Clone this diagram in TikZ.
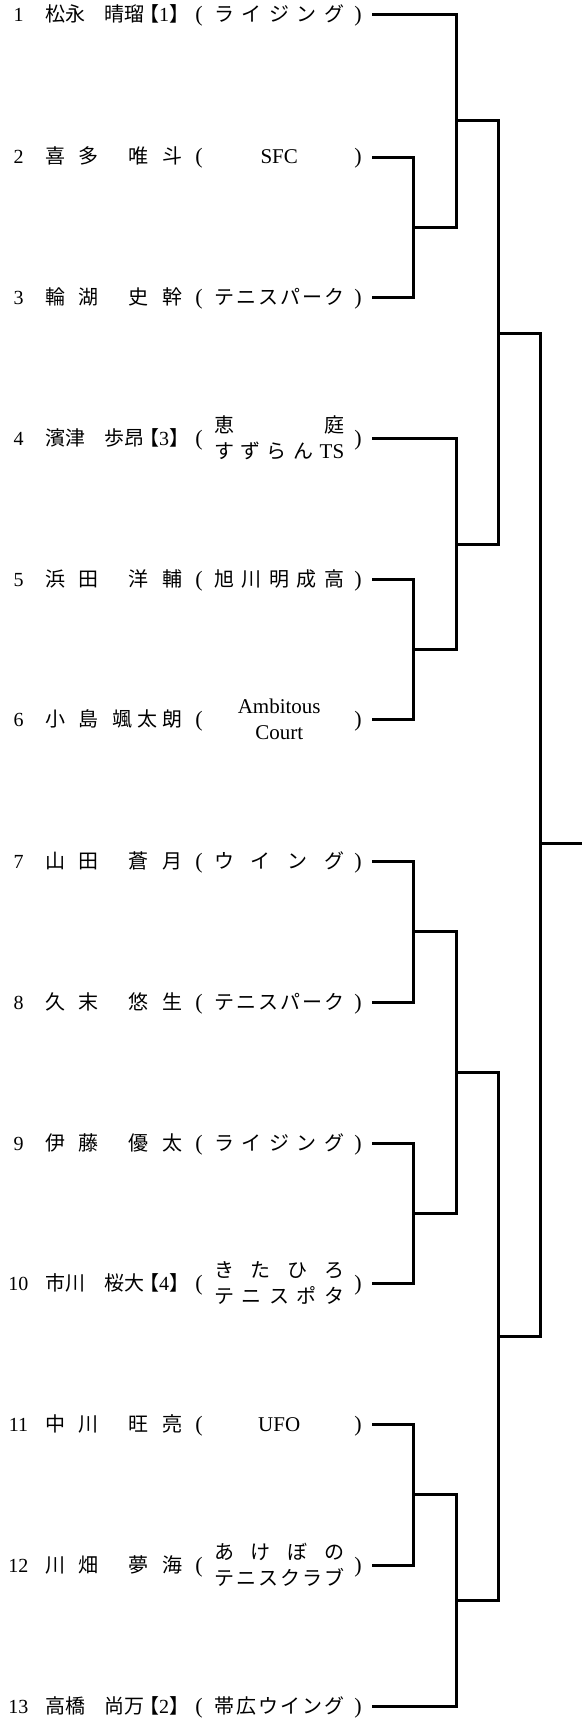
\documentclass[tikz,border=0pt]{standalone}
\usepackage{fontspec}
\setmainfont{Liberation Serif}
\newfontfamily\jp{Noto Sans CJK JP}
\newfontfamily\jphalt[RawFeature=+halt]{Noto Sans CJK JP}
\tikzset{
  txt/.style={anchor=base west, inner sep=0pt, font=\fontsize{20}{24}\selectfont},
  txtc/.style={anchor=base, inner sep=0pt, font=\fontsize{20}{24}\selectfont},
  paren/.style={anchor=base, inner sep=0pt, font=\fontsize{22}{26}\selectfont},
  bracket/.style={line width=3pt, line join=miter, line cap=butt, black}
}
\newcommand\lat{\fontsize{21}{24}\selectfont}
% number, parens, leaf coordinate
\newcommand\rowbase[3]{% id, y, number
  \node[txtc] (num#1) at (18.5,#2+7) {#3};
  \node[paren] (lp#1) at (199,#2+7) {(};
  \node[paren] (rp#1) at (358,#2+7) {)};
  \coordinate (r#1) at (372,#2);}
\newcommand\pname[4]{% id, y, surname, given (distributed)
  \node[txt] (sn#1) at (45,#2+7) {\makebox[53pt]{\jp #3}};
  \node[txt] (gn#1) at (128,#2+7) {\makebox[54pt]{\jp #4}};}
\newcommand\sname[5]{% id, y, surname, given, seed
  \node[txt] (sn#1) at (45,#2+7) {\jp #3};
  \node[txt] (gn#1) at (104,#2+7) {\jp #4};
  \node[txt] (sd#1) at (149,#2+7) {{\jphalt 【}#5{\jphalt 】}};}
\newcommand\club[3]{% id, y, content
  \node[txt] (cl#1) at (214,#2+7) {\makebox[130pt]{#3}};}
\newcommand\clubtwo[4]{% id, y, line1, line2
  \node[txt] (cla#1) at (214,#2-6) {\makebox[130pt]{#3}};
  \node[txt] (clb#1) at (214,#2+20) {\makebox[130pt]{#4}};}
\begin{document}
\begin{tikzpicture}[x=1pt,y=-1pt]
\useasboundingbox (0,0) rectangle (582,1718);

% 1
\rowbase{1}{15}{1}
\sname{1}{15}{松永}{晴瑠}{1}
\club{1}{15}{\jp ラ\hfill イ\hfill ジ\hfill ン\hfill グ}
% 2
\rowbase{2}{157}{2}
\pname{2}{157}{喜\hfill 多}{唯\hfill 斗}
\club{2}{157}{\lat SFC}
% 3
\rowbase{3}{297}{3}
\pname{3}{297}{輪\hfill 湖}{史\hfill 幹}
\club{3}{297}{\jp テ\hfill ニ\hfill ス\hfill パ\hfill ー\hfill ク}
% 4
\rowbase{4}{438}{4}
\sname{4}{438}{濱津}{歩昂}{3}
\clubtwo{4}{438}{\jp 恵\hfill 庭}{\jp す\hfill ず\hfill ら\hfill ん\hfill\rmfamily\lat TS}
% 5
\rowbase{5}{579}{5}
\pname{5}{579}{浜\hfill 田}{洋\hfill 輔}
\club{5}{579}{\jp 旭\hfill 川\hfill 明\hfill 成\hfill 高}
% 6
\rowbase{6}{719}{6}
\node[txt] (sn6) at (45,726) {\makebox[53pt]{\jp 小\hfill 島}};
\node[txt] (gn6) at (112,726) {\makebox[70pt]{\jp 颯\hfill 太\hfill 朗}};
\clubtwo{6}{719}{\lat Ambitous}{\lat Court}
% 7
\rowbase{7}{861}{7}
\pname{7}{861}{山\hfill 田}{蒼\hfill 月}
\club{7}{861}{\jp ウ\hfill イ\hfill ン\hfill グ}
% 8
\rowbase{8}{1002}{8}
\pname{8}{1002}{久\hfill 末}{悠\hfill 生}
\club{8}{1002}{\jp テ\hfill ニ\hfill ス\hfill パ\hfill ー\hfill ク}
% 9
\rowbase{9}{1143}{9}
\pname{9}{1143}{伊\hfill 藤}{優\hfill 太}
\club{9}{1143}{\jp ラ\hfill イ\hfill ジ\hfill ン\hfill グ}
% 10
\rowbase{10}{1283}{10}
\sname{10}{1283}{市川}{桜大}{4}
\clubtwo{10}{1283}{\jp き\hfill た\hfill ひ\hfill ろ}{\jp テ\hfill ニ\hfill ス\hfill ポ\hfill タ}
% 11
\rowbase{11}{1424}{11}
\pname{11}{1424}{中\hfill 川}{旺\hfill 亮}
\club{11}{1424}{\lat UFO}
% 12
\rowbase{12}{1565}{12}
\pname{12}{1565}{川\hfill 畑}{夢\hfill 海}
\clubtwo{12}{1565}{\jp あ\hfill け\hfill ぼ\hfill の}{\jp テ\hfill ニ\hfill ス\hfill ク\hfill ラ\hfill ブ}
% 13
\rowbase{13}{1706}{13}
\sname{13}{1706}{高橋}{尚万}{2}
\club{13}{1706}{\jp 帯\hfill 広\hfill ウ\hfill イ\hfill ン\hfill グ}

% junctions
\coordinate (m23) at (413,227);
\coordinate (mA) at (456,121);
\coordinate (m56) at (413,649);
\coordinate (mB) at (456,544);
\coordinate (mAB) at (498,333);
\coordinate (m78) at (413,931);
\coordinate (m910) at (413,1213);
\coordinate (mC) at (456,1072);
\coordinate (m1112) at (413,1494);
\coordinate (mD) at (456,1600);
\coordinate (mCD) at (498,1336);
\coordinate (mF) at (540,843);
\coordinate (fin) at (582,843);

\draw[bracket] (r2) -| (m23) |- (r3);
\draw[bracket] (r1) -| (mA) |- (m23);
\draw[bracket] (r5) -| (m56) |- (r6);
\draw[bracket] (r4) -| (mB) |- (m56);
\draw[bracket] (mA) -| (mAB) |- (mB);
\draw[bracket] (r7) -| (m78) |- (r8);
\draw[bracket] (r9) -| (m910) |- (r10);
\draw[bracket] (m78) -| (mC) |- (m910);
\draw[bracket] (r11) -| (m1112) |- (r12);
\draw[bracket] (m1112) -| (mD) |- (r13);
\draw[bracket] (mC) -| (mCD) |- (mD);
\draw[bracket] (mAB) -| (mF) |- (mCD);
\draw[bracket] (mF) -- (fin);
\end{tikzpicture}
\end{document}
